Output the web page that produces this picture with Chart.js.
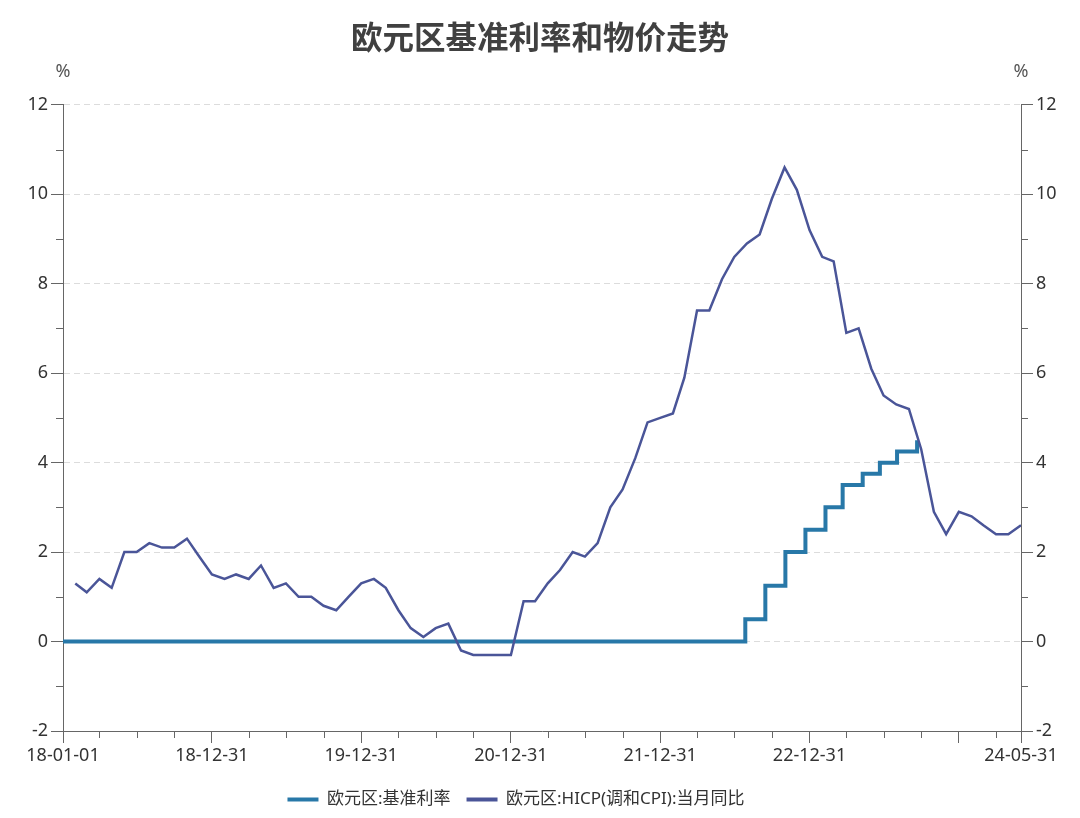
<!DOCTYPE html>
<html>
<head>
<meta charset="utf-8">
<script src="https://cdn.jsdelivr.net/npm/chart.js@4"></script>
<style>
  html, body { margin: 0; padding: 0; background: #fff; }
</style>
</head>
<body>
<canvas id="chart" width="1080" height="818"></canvas>
<script>
// ECB main refinancing rate (change dates)
const rateDates = ['2018-01-01', '2022-07-27', '2022-09-14', '2022-11-02', '2022-12-21',
    '2023-02-08', '2023-03-22', '2023-05-10', '2023-06-21', '2023-08-02', '2023-09-20'];
const rateValues = [0, 0.5, 1.25, 2.0, 2.5, 3.0, 3.5, 3.75, 4.0, 4.25, 4.5];

// HICP yoy, monthly
const hicpMonths = [
    '2018-01', '2018-02', '2018-03', '2018-04', '2018-05', '2018-06', '2018-07', '2018-08', '2018-09', '2018-10', '2018-11', '2018-12',
    '2019-01', '2019-02', '2019-03', '2019-04', '2019-05', '2019-06', '2019-07', '2019-08', '2019-09', '2019-10', '2019-11', '2019-12',
    '2020-01', '2020-02', '2020-03', '2020-04', '2020-05', '2020-06', '2020-07', '2020-08', '2020-09', '2020-10', '2020-11', '2020-12',
    '2021-01', '2021-02', '2021-03', '2021-04', '2021-05', '2021-06', '2021-07', '2021-08', '2021-09', '2021-10', '2021-11', '2021-12',
    '2022-01', '2022-02', '2022-03', '2022-04', '2022-05', '2022-06', '2022-07', '2022-08', '2022-09', '2022-10', '2022-11', '2022-12',
    '2023-01', '2023-02', '2023-03', '2023-04', '2023-05', '2023-06', '2023-07', '2023-08', '2023-09', '2023-10', '2023-11', '2023-12',
    '2024-01', '2024-02', '2024-03', '2024-04', '2024-05'];
const hicpValues = [
    1.3, 1.1, 1.4, 1.2, 2.0, 2.0, 2.2, 2.1, 2.1, 2.3, 1.9, 1.5,
    1.4, 1.5, 1.4, 1.7, 1.2, 1.3, 1.0, 1.0, 0.8, 0.7, 1.0, 1.3,
    1.4, 1.2, 0.7, 0.3, 0.1, 0.3, 0.4, -0.2, -0.3, -0.3, -0.3, -0.3,
    0.9, 0.9, 1.3, 1.6, 2.0, 1.9, 2.2, 3.0, 3.4, 4.1, 4.9, 5.0,
    5.1, 5.9, 7.4, 7.4, 8.1, 8.6, 8.9, 9.1, 9.9, 10.6, 10.1, 9.2,
    8.6, 8.5, 6.9, 7.0, 6.1, 5.5, 5.3, 5.2, 4.3, 2.9, 2.4, 2.9,
    2.8, 2.6, 2.4, 2.4, 2.6];

// x axis ticks and labels
const xTickDates = ['2018-01-01',
    '2018-03-31', '2018-06-30', '2018-09-30', '2018-12-31',
    '2019-03-31', '2019-06-30', '2019-09-30', '2019-12-31',
    '2020-03-31', '2020-06-30', '2020-09-30', '2020-12-31',
    '2021-03-31', '2021-06-30', '2021-09-30', '2021-12-31',
    '2022-03-31', '2022-06-30', '2022-09-30', '2022-12-31',
    '2023-03-31', '2023-06-30', '2023-09-30', '2023-12-31',
    '2024-03-31', '2024-05-31'];
const xMajorDates = ['2018-01-01', '2018-12-31', '2019-12-31', '2020-12-31', '2021-12-31',
    '2022-12-31', '2023-12-31', '2024-05-31'];
const xLabelDates = ['2018-01-01', '2018-12-31', '2019-12-31', '2020-12-31', '2021-12-31',
    '2022-12-31', '2024-05-31'];

const FONT = '"Noto Sans", "Noto Sans CJK SC", sans-serif';
const CJK = '"Noto Sans CJK SC", sans-serif';
const BASE = Date.UTC(2018, 0, 1);

function day(s) {
    const p = s.split('-').map(Number);
    return Math.round((Date.UTC(p[0], p[1] - 1, p[2]) - BASE) / 86400000);
}
function monthEnd(ym) {
    const p = ym.split('-').map(Number);
    return Math.round((Date.UTC(p[0], p[1], 0) - BASE) / 86400000);
}
function fmt(v) {
    const d = new Date(BASE + v * 86400000);
    const pad = n => String(n).padStart(2, '0');
    return String(d.getUTCFullYear()).slice(2) + '-' + pad(d.getUTCMonth() + 1) + '-' + pad(d.getUTCDate());
}

const majorX = new Set(xMajorDates.map(day));
const labelX = new Set(xLabelDates.map(day));

// short ticks for the minor positions
const minorTicks = {
    id: 'minorTicks',
    afterDraw(chart) {
        const ctx = chart.ctx;
        ctx.save();
        ctx.strokeStyle = '#666';
        ctx.lineWidth = 1;
        ctx.beginPath();
        const x = chart.scales.x;
        x.ticks.forEach(t => {
            if (majorX.has(t.value)) return;
            const px = Math.round(x.getPixelForValue(t.value)) + 0.5;
            ctx.moveTo(px, x.top);
            ctx.lineTo(px, x.top + 7);
        });
        ['y', 'y1'].forEach(id => {
            const s = chart.scales[id];
            s.ticks.forEach(t => {
                if (t.value % 2 === 0) return;
                const py = Math.round(s.getPixelForValue(t.value)) + 0.5;
                if (id === 'y') { ctx.moveTo(s.right - 7, py); ctx.lineTo(s.right, py); }
                else { ctx.moveTo(s.left, py); ctx.lineTo(s.left + 7, py); }
            });
        });
        ctx.stroke();
        ctx.restore();
    }
};

// "%" units above both y axes
const unitLabels = {
    id: 'unitLabels',
    afterDraw(chart) {
        const ctx = chart.ctx, a = chart.chartArea;
        ctx.save();
        ctx.font = '18px ' + FONT;
        ctx.fillStyle = '#555';
        ctx.textAlign = 'center';
        ctx.textBaseline = 'middle';
        ctx.fillText('%', a.left, 72);
        ctx.fillText('%', a.right, 72);
        ctx.restore();
    }
};

// legend sits a little left of centre in the original
const legendShift = {
    id: 'legendShift',
    afterLayout(chart) {
        chart.legend.left -= 24;
        chart.legend.right -= 24;
    }
};

const yTicks = {
    stepSize: 1,
    autoSkip: false,
    color: '#333',
    font: { size: 18, family: FONT },
    padding: 3,
    callback: v => (v % 2 === 0 ? v : '')
};

new Chart(document.getElementById('chart'), {
    type: 'line',
    data: {
        datasets: [{
            label: '欧元区:基准利率',
            data: rateDates.map((d, i) => ({ x: day(d), y: rateValues[i] })),
            borderColor: '#2878a8',
            backgroundColor: '#2878a8',
            borderWidth: 4,
            stepped: true,
            pointRadius: 0,
            yAxisID: 'y',
            order: 1
        }, {
            label: '欧元区:HICP(调和CPI):当月同比',
            data: hicpMonths.map((m, i) => ({ x: monthEnd(m), y: hicpValues[i] })),
            borderColor: '#4a5598',
            backgroundColor: '#4a5598',
            borderWidth: 2.5,
            pointRadius: 0,
            tension: 0,
            yAxisID: 'y1',
            order: 0
        }]
    },
    options: {
        responsive: false,
        animation: false,
        layout: { padding: 0 },
        plugins: {
            title: {
                display: true,
                text: '欧元区基准利率和物价走势',
                color: '#404040',
                font: { size: 31.5, weight: 'bold', family: CJK },
                padding: { top: 18, bottom: 49 }
            },
            legend: {
                position: 'bottom',
                labels: {
                    boxWidth: 31,
                    boxHeight: 4,
                    padding: 16,
                    color: '#333',
                    font: { size: 17, family: FONT },
                    generateLabels(chart) {
                        const items = Chart.defaults.plugins.legend.labels.generateLabels(chart);
                        items.forEach(it => { it.fillStyle = it.strokeStyle; it.lineWidth = 0; });
                        return items.sort((a, b) => a.datasetIndex - b.datasetIndex);
                    }
                }
            },
            tooltip: { enabled: false }
        },
        scales: {
            x: {
                type: 'linear',
                min: day('2018-01-01'),
                max: day('2024-05-31'),
                afterBuildTicks(scale) {
                    scale.ticks = xTickDates.map(s => ({ value: day(s) }));
                },
                afterFit(scale) { scale.height = 44; },
                ticks: {
                    autoSkip: false,
                    maxRotation: 0,
                    color: '#333',
                    font: { size: 18, family: FONT },
                    padding: 2,
                    callback: v => (labelX.has(v) ? fmt(v) : '')
                },
                grid: {
                    drawOnChartArea: false,
                    tickLength: 12,
                    tickColor: c => (majorX.has(c.tick.value) ? '#666' : 'rgba(0,0,0,0)')
                },
                border: { color: '#666', width: 1 }
            },
            y: {
                position: 'left',
                min: -2,
                max: 12,
                afterFit(scale) { scale.width = 63; },
                ticks: yTicks,
                grid: {
                    tickLength: 12,
                    color: c => (c.tick.value % 2 === 0 && c.tick.value > -2 ? '#dcdcdc' : 'rgba(0,0,0,0)'),
                    tickColor: c => (c.tick.value % 2 === 0 ? '#666' : 'rgba(0,0,0,0)')
                },
                border: { color: '#666', width: 1, dash: [6, 4] }
            },
            y1: {
                position: 'right',
                min: -2,
                max: 12,
                afterFit(scale) { scale.width = 59; },
                ticks: yTicks,
                grid: {
                    drawOnChartArea: false,
                    tickLength: 12,
                    tickColor: c => (c.tick.value % 2 === 0 ? '#666' : 'rgba(0,0,0,0)')
                },
                border: { color: '#666', width: 1 }
            }
        }
    },
    plugins: [minorTicks, unitLabels, legendShift]
});
</script>
</body>
</html>
